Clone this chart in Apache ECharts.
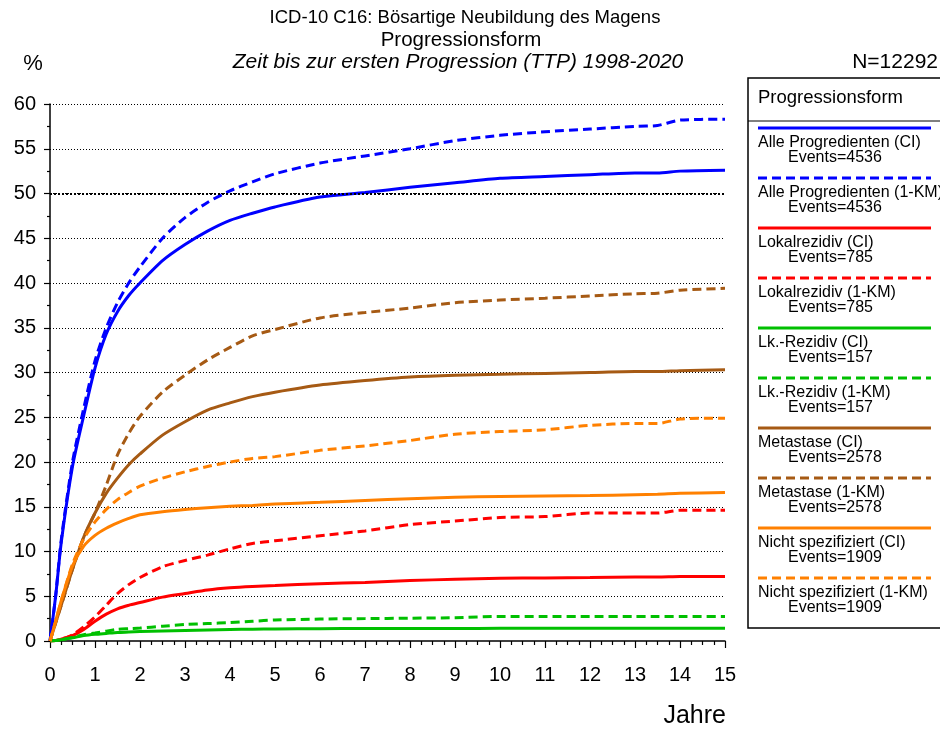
<!DOCTYPE html>
<html>
<head>
<meta charset="utf-8">
<script src="https://cdn.jsdelivr.net/npm/echarts@6/dist/echarts.min.js"></script>
<style>
html,body{margin:0;padding:0;background:#fff;}
#chart{width:940px;height:731px;}
</style>
</head>
<body>
<div id="chart"></div>
<script>
// ---- Data ----
const years = [0, 0.125, 0.25, 0.5, 0.75, 1, 1.25, 1.5, 1.75, 2, 2.5, 3, 3.5, 4, 4.5, 5, 6, 7, 8, 9, 10, 11, 12, 13, 13.5, 14, 15];

const alleCI   = [0, 5, 11, 19.5, 25.2, 30.5, 34.3, 36.8, 38.6, 40, 42.5, 44.3, 45.8, 47, 47.8, 48.5, 49.6, 50.1, 50.7, 51.2, 51.7, 51.9, 52.1, 52.3, 52.3, 52.5, 52.6];
const alleKM   = [0, 5, 11.3, 20, 26, 31.3, 35, 37.8, 40, 41.8, 45, 47.3, 49, 50.3, 51.3, 52.2, 53.4, 54.2, 55, 55.9, 56.5, 56.9, 57.2, 57.5, 57.6, 58.2, 58.3];
const lokalCI  = [0, 0.05, 0.2, 0.6, 1.3, 2.2, 3.0, 3.6, 4.0, 4.3, 4.9, 5.3, 5.7, 5.95, 6.1, 6.2, 6.4, 6.55, 6.75, 6.9, 7.0, 7.05, 7.1, 7.15, 7.15, 7.2, 7.2];
const lokalKM  = [0, 0.05, 0.2, 0.7, 1.6, 2.7, 4.0, 5.3, 6.3, 7.1, 8.3, 9.0, 9.6, 10.3, 10.9, 11.2, 11.75, 12.3, 13.0, 13.4, 13.8, 13.9, 14.3, 14.3, 14.3, 14.6, 14.6];
const lkCI     = [0, 0.05, 0.15, 0.35, 0.6, 0.75, 0.85, 0.95, 1.0, 1.05, 1.12, 1.18, 1.23, 1.28, 1.32, 1.35, 1.38, 1.4, 1.4, 1.4, 1.42, 1.42, 1.42, 1.42, 1.42, 1.42, 1.42];
const lkKM     = [0, 0.05, 0.15, 0.4, 0.7, 0.9, 1.1, 1.3, 1.38, 1.45, 1.65, 1.85, 1.95, 2.05, 2.2, 2.35, 2.45, 2.5, 2.55, 2.6, 2.75, 2.75, 2.75, 2.75, 2.75, 2.75, 2.75];
const metaCI   = [0, 2, 4, 8, 11.6, 14.3, 16.5, 18.2, 19.7, 20.9, 23.0, 24.5, 25.8, 26.6, 27.3, 27.8, 28.6, 29.1, 29.5, 29.7, 29.8, 29.9, 30.0, 30.1, 30.1, 30.2, 30.3];
const metaKM   = [0, 2, 4, 8, 11.6, 14.3, 17.4, 20.8, 23.2, 25.1, 27.8, 29.7, 31.4, 32.8, 34.1, 34.8, 36.1, 36.7, 37.2, 37.8, 38.1, 38.3, 38.55, 38.8, 38.85, 39.2, 39.4];
const nichtCI  = [0, 2.2, 4.5, 8.4, 10.6, 11.8, 12.6, 13.2, 13.7, 14.1, 14.45, 14.7, 14.9, 15.05, 15.15, 15.3, 15.5, 15.7, 15.9, 16.05, 16.15, 16.2, 16.25, 16.35, 16.4, 16.5, 16.6];
const nichtKM  = [0, 2.2, 4.5, 8.6, 11.4, 13.3, 14.7, 15.8, 16.6, 17.3, 18.2, 18.9, 19.5, 20.0, 20.4, 20.6, 21.3, 21.8, 22.4, 23.1, 23.4, 23.6, 24.1, 24.3, 24.3, 24.8, 24.9];

const seriesNames = [
  'Alle Progredienten (CI)', 'Alle Progredienten (1-KM)',
  'Lokalrezidiv (CI)', 'Lokalrezidiv (1-KM)',
  'Lk.-Rezidiv (CI)', 'Lk.-Rezidiv (1-KM)',
  'Metastase (CI)', 'Metastase (1-KM)',
  'Nicht spezifiziert (CI)', 'Nicht spezifiziert (1-KM)'
];
const seriesEvents = [4536, 4536, 785, 785, 157, 157, 2578, 2578, 1909, 1909];
const seriesValues = [alleCI, alleKM, lokalCI, lokalKM, lkCI, lkKM, metaCI, metaKM, nichtCI, nichtKM];
const yTicks = [0, 5, 10, 15, 20, 25, 30, 35, 40, 45, 50, 55, 60];
const xTicks = [0, 1, 2, 3, 4, 5, 6, 7, 8, 9, 10, 11, 12, 13, 14, 15];

// ---- Styles ----
const colors = ['#0000FF', '#0000FF', '#FF0000', '#FF0000', '#00C000', '#00C000', '#A65A14', '#A65A14', '#FF8000', '#FF8000'];
const dashed = [false, true, false, true, false, true, false, true, false, true];
const FONT = '"Liberation Sans", Arial, sans-serif';
const DASH = [9, 5];

const chart = echarts.init(document.getElementById('chart'), null, {renderer: 'canvas'});

const series = seriesValues.map((vals, i) => ({
  name: seriesNames[i],
  type: 'line',
  data: years.map((t, j) => [t, vals[j]]),
  showSymbol: false,
  symbol: 'none',
  smooth: 0.25,
  lineStyle: {color: colors[i], width: 3, type: dashed[i] ? DASH : 'solid'},
  itemStyle: {color: colors[i]},
  z: 3
}));

// reference line at 50 %
series.push({
  type: 'line',
  data: [],
  markLine: {
    silent: true,
    symbol: 'none',
    label: {show: false},
    lineStyle: {color: '#000', width: 2, type: [2, 2]},
    data: [{yAxis: 50}]
  },
  z: 1
});

// legend (drawn as graphics)
const legendEls = [];
const LX = 748, LY = 78;
legendEls.push({type: 'rect', shape: {x: LX, y: LY, width: 210, height: 550}, style: {fill: '#fff', stroke: '#000', lineWidth: 1.5}, z: 10});
legendEls.push({type: 'line', shape: {x1: LX, y1: 121, x2: 945, y2: 121}, style: {stroke: '#000', lineWidth: 1}, z: 11});
legendEls.push({type: 'text', x: 758, y: 98, style: {text: 'Progressionsform', font: '18.5px ' + FONT, fill: '#000', textVerticalAlign: 'middle'}, z: 11});
seriesNames.forEach((nm, i) => {
  const y0 = 128 + 50 * i;
  legendEls.push({type: 'line', shape: {x1: 758, y1: y0, x2: 931, y2: y0},
    style: {stroke: colors[i], lineWidth: 3, lineDash: dashed[i] ? DASH : null}, z: 11});
  legendEls.push({type: 'text', x: 758, y: y0 + 15, style: {text: nm, font: '16px ' + FONT, fill: '#000', textVerticalAlign: 'middle'}, z: 11});
  legendEls.push({type: 'text', x: 788, y: y0 + 30, style: {text: 'Events=' + seriesEvents[i], font: '16px ' + FONT, fill: '#000', textVerticalAlign: 'middle'}, z: 11});
});

const titleEls = [
  {type: 'text', x: 465, y: 18, style: {text: 'ICD-10 C16: Bösartige Neubildung des Magens', font: '18.5px ' + FONT, fill: '#000', textAlign: 'center', textVerticalAlign: 'middle'}},
  {type: 'text', x: 461, y: 40, style: {text: 'Progressionsform', font: '20.5px ' + FONT, fill: '#000', textAlign: 'center', textVerticalAlign: 'middle'}},
  {type: 'text', x: 458, y: 62, style: {text: 'Zeit bis zur ersten Progression (TTP) 1998-2020', font: 'italic 21px ' + FONT, fill: '#000', textAlign: 'center', textVerticalAlign: 'middle'}},
  {type: 'text', x: 938, y: 62, style: {text: 'N=12292', font: '21px ' + FONT, fill: '#000', textAlign: 'right', textVerticalAlign: 'middle'}},
  {type: 'text', x: 33, y: 64, style: {text: '%', font: '22px ' + FONT, fill: '#000', textAlign: 'center', textVerticalAlign: 'middle'}},
  {type: 'text', x: 726, y: 716, style: {text: 'Jahre', font: '25px ' + FONT, fill: '#000', textAlign: 'right', textVerticalAlign: 'middle'}}
];

chart.setOption({
  animation: false,
  backgroundColor: '#fff',
  grid: {left: 50, right: 215, top: 104, bottom: 90, containLabel: false},
  xAxis: {
    type: 'value', min: xTicks[0], max: xTicks[xTicks.length - 1], interval: 1,
    offset: 7,
    axisLine: {show: true, lineStyle: {color: '#000', width: 1.5}},
    axisTick: {show: true, length: 7, lineStyle: {color: '#000', width: 1.2}},
    minorTick: {show: true, splitNumber: 4, length: 4, lineStyle: {color: '#000', width: 1.2}},
    axisLabel: {color: '#000', fontSize: 20, fontFamily: FONT, margin: 17},
    splitLine: {show: false}
  },
  yAxis: {
    type: 'value', min: yTicks[0], max: yTicks[yTicks.length - 1], interval: 5,
    offset: 4,
    axisLine: {show: true, lineStyle: {color: '#000', width: 1.5}},
    axisTick: {show: true, length: 6, lineStyle: {color: '#000', width: 1.2}},
    minorTick: {show: true, splitNumber: 2, length: 3, lineStyle: {color: '#000', width: 1.2}},
    axisLabel: {color: '#000', fontSize: 20, fontFamily: FONT, margin: 10},
    splitLine: {show: true, showMinLine: false, lineStyle: {color: '#000', width: 1, type: [1, 2]}}
  },
  graphic: titleEls.concat(legendEls),
  series: series
});
</script>
</body>
</html>
